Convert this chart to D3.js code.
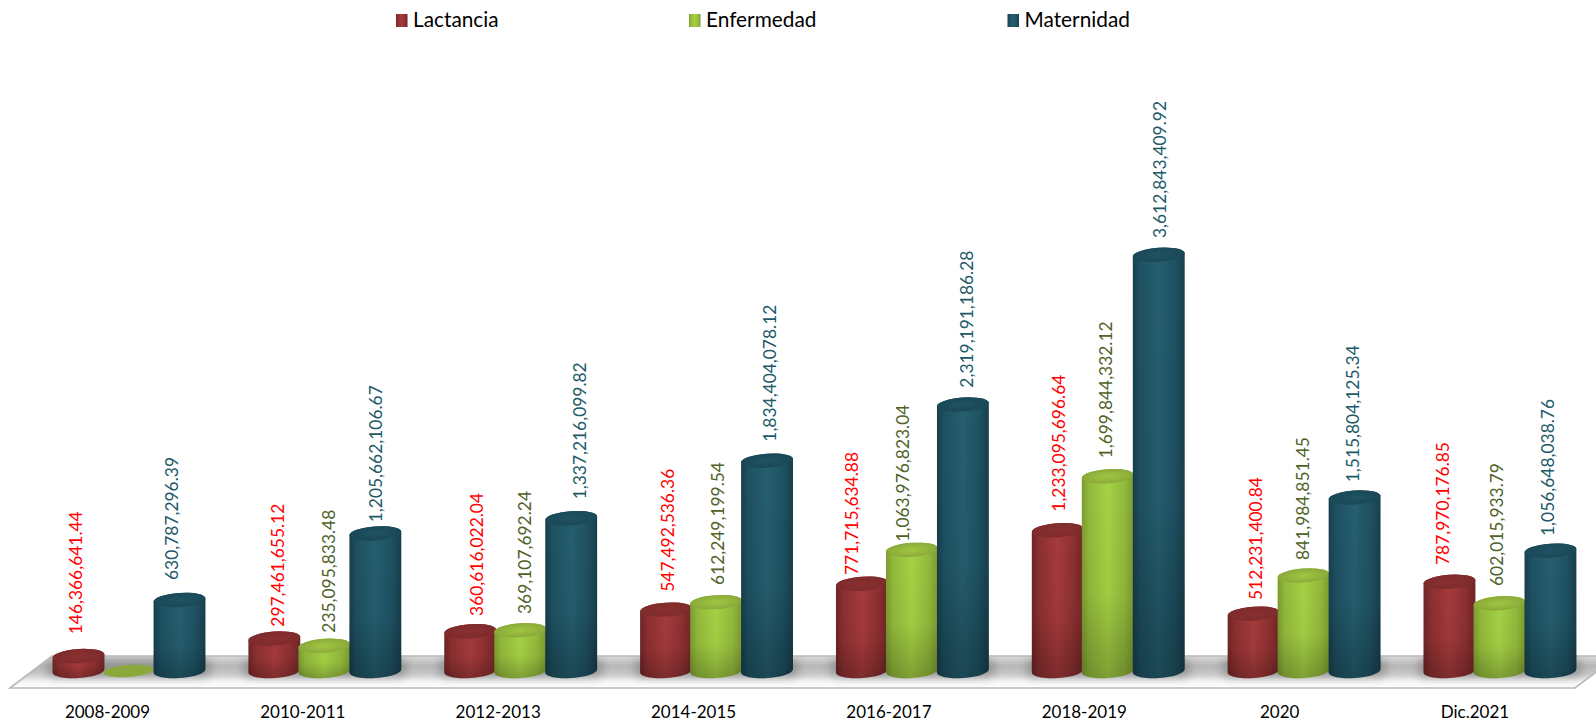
<!DOCTYPE html>
<html><head><meta charset="utf-8">
<style>html,body{margin:0;padding:0;background:#fff;overflow:hidden}svg{display:block}text{font-family:Lato,"Open Sans",sans-serif}</style>
<script src="https://cdnjs.cloudflare.com/ajax/libs/d3/7.8.5/d3.min.js"></script>
</head><body><svg id="c" width="1596" height="722"></svg>
<script>
const categories=["2008-2009","2010-2011","2012-2013","2014-2015","2016-2017","2018-2019","2020","Dic.2021"];
const lactancia=[146366641.44,297461655.12,360616022.04,547492536.36,771715634.88,1233095696.64,512231400.84,787970176.85];
const enfermedad=[0,235095833.48,369107692.24,612249199.54,1063976823.04,1699844332.12,841984851.45,602015933.79];
const maternidad=[630787296.39,1205662106.67,1337216099.82,1834404078.12,2319191186.28,3612843409.92,1515804125.34,1056648038.76];
const seriesNames=["Lactancia","Enfermedad","Maternidad"];
const seriesValues=[lactancia,enfermedad,maternidad];
const labelColors=["#ff0000","#4f6228","#215968"];
const legendX=[396,689,1007.5];
// hand placement of the value labels, as in the source chart
const nudgeX=[[-2.5,4,6.5,1.6,-9.6,1.5,2.1,-6.1],[0,4.6,4.8,1.7,-9.2,-2,-1,-2.8],[-7.8,.7,8.8,3,3.8,1.3,-1.3,-2.1]];
const labelGap=[[21.8,11.9,15.3,17.9,8.7,18.6,13.7,16.8],[0,13.1,16.3,17.1,8.2,17.9,15.5,17.3],[20,11.2,18.9,19,16.9,16.8,15.3,14.7]];
const fmt=d3.format(",.2f");

const W=1596,H=722,R=26,RY=7,ROT=-4;
const svg=d3.select("#c");
const defs=svg.append("defs");
const shades=[
 {edge:"#6d2526",mid:"#a63b3c",side:"#8c2f30",top:"#7e2b2c",topHi:"#8a3031"},
 {edge:"#7d9c30",mid:"#a6d345",side:"#93ba3b",top:"#8aa93a",topHi:"#a0c741"},
 {edge:"#173f4c",mid:"#255f70",side:"#1e5162",top:"#1a4857",topHi:"#1f5363"}];
shades.forEach((s,i)=>{
 const g=defs.append("linearGradient").attr("id","side"+i);
 [[0,s.edge],[.14,s.side],[.5,s.mid],[.82,s.side],[1,s.edge]].forEach(d=>g.append("stop").attr("offset",d[0]).attr("stop-color",d[1]));
 const t=defs.append("radialGradient").attr("id","top"+i);
 [[0,s.topHi],[1,s.top]].forEach(d=>t.append("stop").attr("offset",d[0]).attr("stop-color",d[1]));
});
const sh=defs.append("linearGradient").attr("id","shade").attr("x2",0).attr("y2",1);
[[0,0],[.6,.04],[1,.24]].forEach(d=>sh.append("stop").attr("offset",d[0]).attr("stop-color","#000").attr("stop-opacity",d[1]));
defs.append("filter").attr("id","blur").attr("x","-20%").attr("y","-100%").attr("width","140%").attr("height","300%")
 .append("feGaussianBlur").attr("stdDeviation",4.5);
const fl=defs.append("linearGradient").attr("id","floor").attr("x2",0).attr("y2",1);
[[0,"#dadada"],[.3,"#b8b8b8"],[.55,"#c6c6c6"],[.8,"#f4f4f4"],[1,"#ffffff"]].forEach(d=>fl.append("stop").attr("offset",d[0]).attr("stop-color",d[1]));

const x=d3.scaleBand().domain(categories).range([0,8*195.85]);
const barOffset=d3.scaleOrdinal().domain(seriesNames).range([0,50,101]);
const barX=(c,n)=>x(c)+78.5+barOffset(n);
const labelX=d3.scalePoint().domain(categories).range([107.5,1475]);
const y=d3.scaleLinear().domain([0,4e9]).range([673,210]);
const baseY=671;

// floor
const floorY=[656,688];
const floorPath="M"+[[52,floorY[0]],[1618,floorY[0]],[1575,floorY[1]],[10,floorY[1]]].join("L")+"Z";
defs.append("clipPath").attr("id","floorClip").append("path").attr("d",floorPath);
svg.append("path").attr("d",floorPath).attr("fill","url(#floor)");
svg.append("g").attr("clip-path","url(#floorClip)").selectAll("rect").data(categories).join("rect")
 .attr("x",c=>barX(c,seriesNames[0])-32).attr("width",c=>barX(c,seriesNames[2])-barX(c,seriesNames[0])+64)
 .attr("y",659).attr("height",18).attr("rx",8).attr("fill","#808080").attr("opacity",.65).attr("filter","url(#blur)");
svg.append("path").attr("d",floorPath).attr("fill","none").attr("stroke","#b8b8b8").attr("stroke-width",1.6);

// cylinders
const dx=R*Math.cos(ROT*Math.PI/180),dy=R*Math.sin(ROT*Math.PI/180);
const cyl=(cx,top,base)=>`M${cx-dx},${top-dy}A${R},${RY} ${ROT} 0 1 ${cx+dx},${top+dy}L${cx+dx},${base+dy}A${R},${RY} ${ROT} 0 1 ${cx-dx},${base-dy}Z`;
seriesNames.forEach((name,i)=>{
 const rows=categories.map((c,j)=>({c,v:seriesValues[i][j]}));
 const g=svg.append("g");
 const b=g.selectAll("g").data(rows).join("g");
 const top=d=>d.v>0?y(d.v):baseY;
 b.filter(d=>d.v>0).append("path").attr("d",d=>cyl(barX(d.c,name),y(d.v),baseY)).attr("fill",`url(#side${i})`);
 b.filter(d=>d.v>0).append("path").attr("d",d=>cyl(barX(d.c,name),y(d.v),baseY)).attr("fill","url(#shade)");
 b.append("ellipse").attr("cx",d=>barX(d.c,name)).attr("cy",top).attr("rx",d=>d.v>0?R:25).attr("ry",d=>d.v>0?RY:6)
  .attr("transform",d=>`rotate(${ROT} ${barX(d.c,name)} ${top(d)})`).attr("fill",d=>d.v>0?`url(#top${i})`:shades[i].top);
});
// value labels
seriesNames.forEach((name,i)=>{
 const rows=categories.map((c,j)=>({c,v:seriesValues[i][j],nx:nudgeX[i][j],gap:labelGap[i][j]})).filter(d=>d.v>0);
 svg.append("g").selectAll("text").data(rows).join("text")
  .attr("transform",d=>`translate(${barX(d.c,name)+d.nx},${y(d.v)-d.gap}) rotate(-90)`)
  .attr("dy","0.35em").attr("font-size",17.4).attr("fill",labelColors[i]).text(d=>fmt(d.v));
});
// category labels
svg.append("g").selectAll("text").data(categories).join("text")
 .attr("x",d=>labelX(d)).attr("y",712.4).attr("dy","0.35em").attr("text-anchor","middle")
 .attr("font-size",17).attr("fill","#000").text(d=>d);
// legend
const lg=svg.append("g").selectAll("g").data(seriesNames).join("g").attr("transform",(d,i)=>`translate(${legendX[i]},0)`);
lg.append("rect").attr("y",14).attr("width",11.5).attr("height",13).attr("fill",(d,i)=>`url(#side${i})`);
lg.append("text").attr("x",17).attr("y",20).attr("dy","0.35em").attr("font-size",20.8).attr("fill","#000").text(d=>d);
</script></body></html>
